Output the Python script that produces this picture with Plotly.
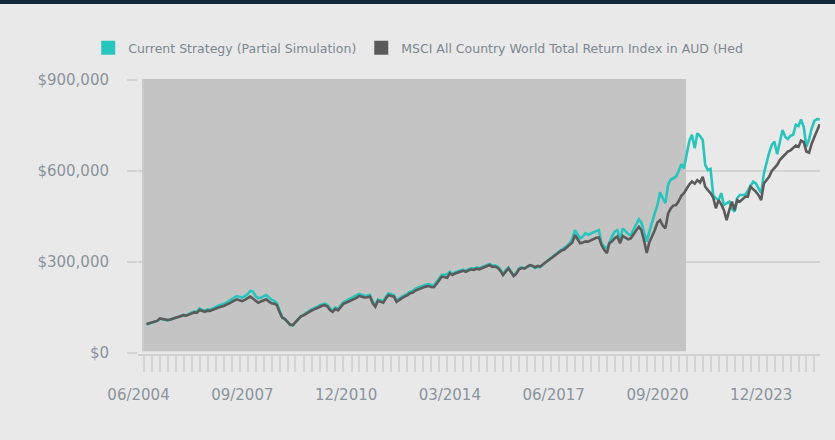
import pandas as pd
import plotly.graph_objects as go

# ---------------- data (values in $ thousands, month-end) ----------------
START_MONTH_END = "2004-08-31"

strategy_k = [
    94, 97, 100, 103, 106, 113, 112, 110, 108, 110, 114, 117,
    119, 122, 126, 124, 130, 134, 137, 137, 147, 142, 140, 144,
    143, 148, 152, 156, 159, 162, 165, 171, 177, 182, 188, 186,
    183, 188, 194, 205, 203, 188, 181, 182, 186, 191, 184, 176,
    172, 165, 140, 119, 113, 102, 93, 91, 100, 112, 121, 126,
    133, 139, 144, 148, 151, 157, 161, 163, 159, 147, 140, 150,
    146, 157, 168, 172, 177, 181, 184, 189, 195, 192, 189, 190,
    192, 170, 156, 177, 173, 171, 186, 197, 194, 191, 174, 181,
    186, 191, 195, 202, 205, 212, 216, 219, 222, 225, 227, 224,
    223, 235, 248, 258, 258, 260, 268, 262, 266, 270, 272, 275,
    272, 276, 280, 278, 282, 280, 283, 287, 290, 294, 288, 289,
    285, 275, 259, 273, 282, 268, 256, 265, 279, 282, 279, 283,
    288, 286, 280, 284, 283, 292, 298, 305, 312, 319, 327, 335,
    341, 345, 353, 362, 376, 405, 392, 378, 384, 395, 390, 394,
    398, 403, 405, 362, 350, 345, 367, 385, 400, 405, 373, 411,
    402, 392, 389, 405, 425, 441, 430, 400, 367, 400, 433, 460,
    488, 530, 510, 494, 555, 572, 576, 581, 600, 622, 609, 655,
    700, 719, 675, 724, 715, 702, 620, 603, 607, 521, 510, 504,
    527, 488, 495, 499, 475, 466, 510, 521, 521, 521, 535, 550,
    565, 559, 545, 527, 592, 630, 660, 686, 697, 655, 700, 735,
    713, 705, 716, 719, 752, 748, 770, 745, 680, 705, 740, 765,
    771, 770,
]

msci_k = [
    96, 99, 101, 104, 106, 114, 112, 110, 109, 111, 114, 117,
    119, 122, 125, 123, 128, 131, 134, 133, 142, 138, 136, 140,
    139, 143, 147, 150, 153, 155, 158, 163, 168, 172, 177, 174,
    171, 175, 180, 186, 180, 172, 166, 170, 174, 177, 170, 164,
    163, 158, 135, 117, 112, 102, 94, 92, 101, 112, 120, 124,
    130, 135, 140, 144, 147, 152, 156, 158, 154, 142, 136, 145,
    141, 152, 162, 166, 170, 174, 177, 182, 188, 185, 183, 184,
    186, 165, 153, 172, 168, 166, 180, 191, 188, 186, 169, 176,
    181, 186, 190, 197, 199, 206, 210, 213, 216, 219, 221, 218,
    217, 228, 240, 252, 250, 248, 263, 257, 262, 266, 268, 271,
    268, 272, 276, 274, 278, 276, 279, 283, 286, 290, 284, 285,
    281, 272, 257, 270, 279, 266, 254, 262, 276, 280, 278, 284,
    290, 288, 283, 287, 285, 293, 299, 305, 312, 318, 325, 332,
    338, 341, 348, 356, 364, 389, 376, 362, 364, 368, 367, 372,
    376, 380, 381, 356, 340, 329, 362, 368, 378, 384, 362, 386,
    380, 375, 378, 392, 404, 416, 405, 370, 330, 365, 384, 405,
    430, 438, 420, 411, 460, 477, 486, 488, 500, 518, 527, 543,
    556, 565, 558, 570, 562, 581, 548, 537, 527, 512, 477, 504,
    490, 471, 438, 471, 499, 471, 504, 499, 508, 515, 515, 548,
    540, 532, 520, 504, 559, 570, 581, 600, 610, 620, 636, 645,
    655, 664, 668, 675, 684, 680, 700, 695, 664, 660, 690, 712,
    735, 754,
]

series_names = [
    "Current Strategy (Partial Simulation)",
    "MSCI All Country World Total Return Index in AUD (Hed",
]
series_colors = ["#27c5bb", "#5b5b5b"]

x_tick_dates = ["2004-06-01", "2007-09-01", "2010-12-01", "2014-03-01",
                "2017-06-01", "2020-09-01", "2023-12-01"]
x_tick_labels = ["06/2004", "09/2007", "12/2010", "03/2014",
                 "06/2017", "09/2020", "12/2023"]
y_tick_values = [0, 300000, 600000, 900000]
y_tick_labels = ["$0", "$300,000", "$600,000", "$900,000"]

simulation_start = "2004-07-22"
simulation_end = "2021-07-23"

# ---------------- figure ----------------
dates = pd.date_range(START_MONTH_END, periods=len(msci_k), freq="ME")
strategy = [v * 1000 for v in strategy_k]
msci = [v * 1000 for v in msci_k]

FONT = "DejaVu Sans"
TXT = "#8a949c"
GRID = "#d3d3d3"

fig = go.Figure()
for name, vals, col in [(series_names[0], strategy, series_colors[0]),
                        (series_names[1], msci, series_colors[1])]:
    fig.add_trace(go.Scatter(x=dates, y=vals, mode="lines", name=name,
                             line=dict(color=col, width=2.6),
                             showlegend=False, hoverinfo="skip"))
for name, col in zip(series_names, series_colors):
    fig.add_trace(go.Scatter(x=[None], y=[None], mode="markers", name=name,
                             marker=dict(symbol="square", size=14, color=col)))

# shaded simulation period
fig.add_shape(type="rect", xref="x", yref="y", layer="between",
              x0=simulation_start, x1=simulation_end, y0=6000, y1=903000,
              fillcolor="#c4c4c4", line=dict(width=0))
fig.add_shape(type="line", xref="x", yref="y", layer="between",
              x0=simulation_start, x1=simulation_start, y0=6000, y1=903000,
              line=dict(color="#cbcbcb", width=2))
# top dark band
fig.add_shape(type="rect", xref="paper", yref="paper",
              x0=-1, x1=2, y0=(354 - 4) / 275, y1=(354 + 5) / 275,
              fillcolor="#0f2a3d", line=dict(width=0))

fig.update_layout(
    width=835, height=440,
    margin=dict(l=138, r=15, t=79, b=86),
    paper_bgcolor="#e9e9e9", plot_bgcolor="#e9e9e9",
    font=dict(family=FONT, color=TXT),
    legend=dict(orientation="h", x=-0.073, xanchor="left",
                y=(354 - 48) / 275, yanchor="middle",
                font=dict(size=12.5, color="#7d8790", family=FONT),
                bgcolor="rgba(0,0,0,0)", itemclick=False),
    xaxis=dict(
        type="date", range=["2004-05-26", "2025-10-03"],
        tickmode="array", tickvals=x_tick_dates, ticktext=x_tick_labels,
        ticks="", showgrid=False, zeroline=False,
        showline=True, linecolor="#d0d0d0", linewidth=2,
        tickfont=dict(size=15, color=TXT, family=FONT),
        ticklabelstandoff=26,
        minor=dict(tickmode="linear", tick0="2004-08-01", dtick="M3",
                   ticks="outside", ticklen=16, tickwidth=2,
                   tickcolor="#d3d3d3", showgrid=False),
    ),
    yaxis=dict(
        range=[-3000, 903000],
        tickmode="array", tickvals=y_tick_values, ticktext=y_tick_labels,
        ticks="outside", ticklen=10, tickwidth=2, tickcolor=GRID,
        showgrid=True, gridcolor=GRID, gridwidth=2, zeroline=False,
        tickfont=dict(size=15, color=TXT, family=FONT),
        ticklabelstandoff=15,
    ),
)

fig.write_html("out.html", config={"displayModeBar": False},
               post_script="document.body.style.margin='0';")
